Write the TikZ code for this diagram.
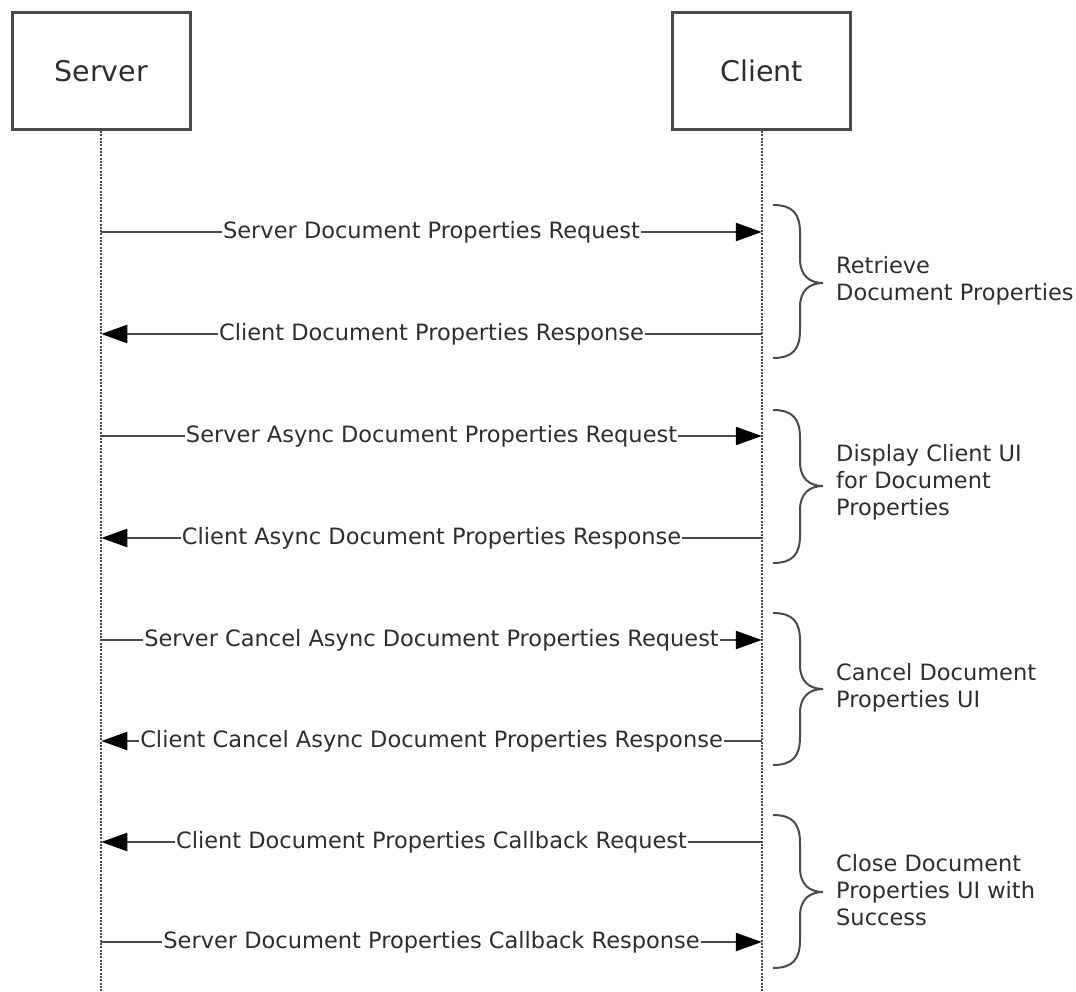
\documentclass[tikz,border=0pt]{standalone}
\usepackage{fontspec}
\setmainfont{DejaVu Sans}
\usetikzlibrary{arrows.meta}
\definecolor{linegray}{HTML}{4A4A4A}
\definecolor{txt}{HTML}{2E2E2E}
\begin{document}
\begin{tikzpicture}[x=1pt,y=-1pt,
 actor/.style={draw=linegray, line width=2.8pt, minimum width=178pt, minimum height=117pt, font=\fontsize{28.5}{34}\selectfont, text=txt, inner sep=0},
 life/.style={draw=linegray, line width=2.2pt, dash pattern=on 2pt off 1.3pt},
 msg/.style={draw=linegray, line width=2.4pt, -{Triangle[length=26pt,width=18pt,color=black]}},
 lbl/.style={fill=white, inner xsep=1pt, inner ysep=2pt, font=\fontsize{22.5}{27}\selectfont, text=txt},
 bracestyle/.style={draw=linegray, line width=2pt},
 note/.style={font=\fontsize{22.5}{27}\selectfont, text=txt, align=left, anchor=west, inner sep=0}]
\useasboundingbox (0,0) rectangle (1076,992);

\node[actor] (server) at (101.3,71.3) {Server};
\node[actor] (client) at (761.8,71.3) {Client};
\coordinate (sEnd) at (101.3,992);
\coordinate (cEnd) at (761.8,992);
\draw[life] (server.south) -- (sEnd);
\draw[life] (client.south) -- (cEnd);

% message end points
\foreach \i/\y in {1/232,2/334,3/436,4/538,5/640,6/741,7/842,8/942}{
  \coordinate (s\i) at (101.3,\y);
  \coordinate (c\i) at (761.8,\y);
}

\draw[msg] (s1) -- node[lbl] (m1) {Server Document Properties Request} (c1);
\draw[msg] (c2) -- node[lbl] (m2) {Client Document Properties Response} (s2);
\draw[msg] (s3) -- node[lbl] (m3) {Server Async Document Properties Request} (c3);
\draw[msg] (c4) -- node[lbl] (m4) {Client Async Document Properties Response} (s4);
\draw[msg] (s5) -- node[lbl] (m5) {Server Cancel Async Document Properties Request} (c5);
\draw[msg] (c6) -- node[lbl] (m6) {Client Cancel Async Document Properties Response} (s6);
\draw[msg] (c7) -- node[lbl] (m7) {Client Document Properties Callback Request} (s7);
\draw[msg] (s8) -- node[lbl] (m8) {Server Document Properties Callback Response} (c8);

% braces
\foreach \t/\m/\b in {205/283/358, 410/486/563, 613/689/765, 815/892/968}{
  \draw[bracestyle] (773,\t) .. controls (793,\t) and (800,\t+9) .. (800,\t+28)
     -- (800,\m-24) .. controls (800,\m-7) and (810,\m) .. (823,\m)
     .. controls (810,\m) and (800,\m+7) .. (800,\m+24)
     -- (800,\b-28) .. controls (800,\b-9) and (793,\b) .. (773,\b);
}

\node[note] (g1) at (836,281) {Retrieve\\Document Properties};
\node[note] (g2) at (836,482) {Display Client UI\\for Document\\Properties};
\node[note] (g3) at (836,688) {Cancel Document\\Properties UI};
\node[note] (g4) at (836,890) {Close Document\\Properties UI with\\Success};
\end{tikzpicture}
\end{document}
